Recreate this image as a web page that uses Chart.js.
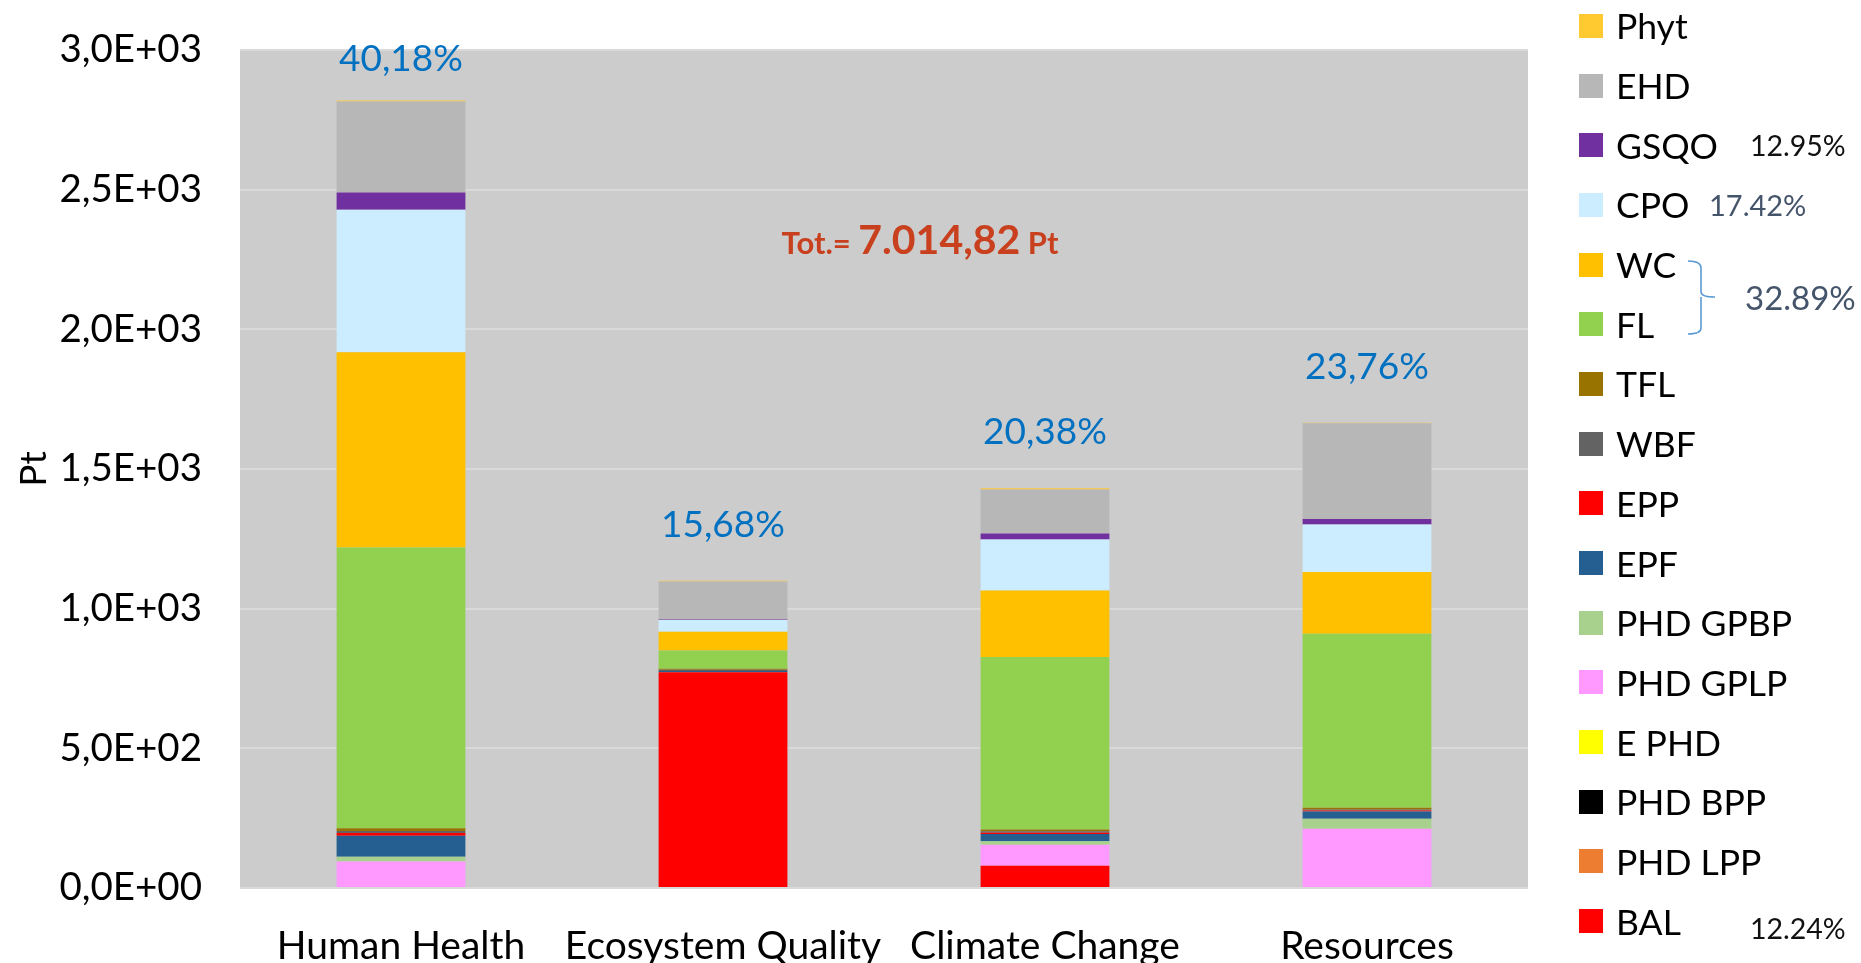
<!DOCTYPE html>
<html>
<head>
<meta charset="utf-8">
<script src="https://cdn.jsdelivr.net/npm/chart.js@4.4.1/dist/chart.umd.min.js"></script>
<style>
    body { margin: 0; background: #ffffff; font-family: Lato, sans-serif; }
    #wrap { position: relative; width: 1861px; height: 963px; overflow: hidden; }
    #legend { position: absolute; left: 1579px; top: -4px; margin: 0; padding: 0; list-style: none; }
    #legend li { height: 59.7px; display: flex; align-items: center; font-size: 35.5px; color: #000; white-space: nowrap; }
    #legend .box { width: 24px; height: 24px; margin-right: 13px; display: inline-block; }
    .note { position: absolute; transform: translateY(-50%); white-space: nowrap; }
</style>
</head>
<body>
<div id="wrap">
    <canvas id="impactChart" width="1861" height="963"></canvas>
    <ul id="legend"></ul>
    <div class="note" style="left:1750px; top:145px; font-size:28.5px; color:#111;">12.95%</div>
    <div class="note" style="left:1709px; top:204px; font-size:29px; color:#44546A;">17.42%</div>
    <svg style="position:absolute; left:1686px; top:259px;" width="32" height="78">
        <path d="M2,2 Q15,2 15,9 L15,33 Q15,38 29,38 M15,38 Q15,43 15,45 L15,69 Q15,75 2,75" stroke="#5B9BD5" stroke-width="1.6" fill="none"/>
    </svg>
    <div class="note" style="left:1745px; top:297px; font-size:33px; color:#44546A;">32.89%</div>
    <div class="note" style="left:1750px; top:928px; font-size:28.5px; color:#111;">12.24%</div>
</div>
<script>
// categories and shares
const categories = ['Human Health', 'Ecosystem Quality', 'Climate Change', 'Resources'];
const sharePct = ['40,18%', '15,68%', '20,38%', '23,76%'];
const totalText = ['Tot.= ', '7.014,82', ' Pt'];

// series values (Pt), bottom of the stack first
const BAL     = [0, 772, 80, 0];
const phdLpp  = [0, 0, 0, 0];
const phdBpp  = [0, 0, 0, 0];
const ePhd    = [0, 0, 0, 0];
const phdGplp = [95, 0, 75, 212];
const phdGpbp = [17, 0, 12, 36];
const EPF     = [75, 5, 26, 26];
const EPP     = [10, 0, 5, 3];
const WBF     = [7, 4, 5, 4];
const TFL     = [10, 4, 6, 6];
const FL      = [1005, 65, 618, 623];
const WC      = [699, 67, 238, 221];
const CPO     = [510, 42, 183, 170];
const GSQO    = [62, 2, 21, 20];
const EHD     = [326, 136, 158, 343];
const Phyt    = [3, 3, 4, 2];

// y axis ticks
const yTicks = [0, 500, 1000, 1500, 2000, 2500, 3000];

const series = [
    ['BAL', BAL, '#FF0000'],
    ['PHD LPP', phdLpp, '#ED7D31'],
    ['PHD BPP', phdBpp, '#000000'],
    ['E PHD', ePhd, '#FFFF00'],
    ['PHD GPLP', phdGplp, '#FF99FF'],
    ['PHD GPBP', phdGpbp, '#A9D18E'],
    ['EPF', EPF, '#255E91'],
    ['EPP', EPP, '#FF0000'],
    ['WBF', WBF, '#636363'],
    ['TFL', TFL, '#997300'],
    ['FL', FL, '#92D050'],
    ['WC', WC, '#FFC000'],
    ['CPO', CPO, '#CCECFF'],
    ['GSQO', GSQO, '#7030A0'],
    ['EHD', EHD, '#B7B7B7'],
    ['Phyt', Phyt, '#FFC930']
];

function sciLabel(v) {
    // 2500 -> 2,5E+03
    const parts = Number(v).toExponential(1).split('e');
    const exp = parseInt(parts[1], 10);
    const sign = exp < 0 ? '-' : '+';
    return parts[0].replace('.', ',') + 'E' + sign + String(Math.abs(exp)).padStart(2, '0');
}

Chart.defaults.font.family = 'Lato, sans-serif';
Chart.defaults.color = '#000000';

// grey plot background
const plotBg = {
    id: 'plotBg',
    beforeDraw(chart) {
        const a = chart.chartArea;
        const ctx = chart.ctx;
        ctx.save();
        ctx.fillStyle = '#CCCCCC';
        ctx.fillRect(a.left, a.top, a.right - a.left, a.bottom - a.top);
        ctx.restore();
    }
};

// share labels above the bars and the total
const annotations = {
    id: 'annotations',
    afterDatasetsDraw(chart) {
        const ctx = chart.ctx;
        const x = chart.scales.x;
        const y = chart.scales.y;
        ctx.save();
        ctx.font = '37px Lato, sans-serif';
        ctx.fillStyle = '#0070C0';
        ctx.textAlign = 'center';
        ctx.textBaseline = 'middle';
        categories.forEach((c, i) => {
            let sum = 0;
            chart.data.datasets.forEach(ds => { sum += ds.data[i]; });
            const py = Math.max(y.getPixelForValue(sum) - 56, chart.chartArea.top + 9);
            ctx.fillText(sharePct[i], x.getPixelForValue(i), py);
        });

        // Tot.= 7.014,82 Pt
        const fonts = ['bold 31px Lato, sans-serif', 'bold 41px Lato, sans-serif', 'bold 31px Lato, sans-serif'];
        let w = 0;
        totalText.forEach((t, k) => { ctx.font = fonts[k]; w += ctx.measureText(t).width; });
        const a = chart.chartArea;
        let tx = a.left + 0.528 * (a.right - a.left) - w / 2;
        const ty = y.getPixelForValue(2320);
        ctx.fillStyle = '#C8401E';
        ctx.textAlign = 'left';
        ctx.textBaseline = 'alphabetic';
        totalText.forEach((t, k) => {
            ctx.font = fonts[k];
            ctx.fillText(t, tx, ty + 14);
            tx += ctx.measureText(t).width;
        });
        ctx.restore();
    }
};

const ctx = document.getElementById('impactChart');
const chart = new Chart(ctx, {
    type: 'bar',
    data: {
        labels: categories,
        datasets: series.map(s => ({
            label: s[0],
            data: s[1],
            backgroundColor: s[2],
            borderWidth: 0,
            categoryPercentage: 1.0,
            barPercentage: 0.4
        }))
    },
    options: {
        responsive: false,
        animation: false,
        layout: {
            padding: { top: 50, right: 333, bottom: 0, left: 0 }
        },
        plugins: {
            legend: { display: false },
            tooltip: { enabled: false }
        },
        scales: {
            x: {
                stacked: true,
                grid: { display: false },
                border: { display: false },
                ticks: {
                    color: '#000',
                    font: { size: 39 },
                    padding: 27,
                    maxRotation: 0,
                    autoSkip: false
                },
                afterFit(scale) { scale.height = 75; }
            },
            y: {
                stacked: true,
                min: yTicks[0],
                max: yTicks[yTicks.length - 1],
                afterBuildTicks(scale) {
                    scale.ticks = yTicks.map(v => ({ value: v }));
                },
                grid: { color: '#D9D9D9', lineWidth: 2, drawTicks: false },
                border: { display: false },
                ticks: {
                    color: '#000',
                    font: { size: 38.5 },
                    padding: 38,
                    callback: v => sciLabel(v)
                },
                title: {
                    display: true,
                    text: 'Pt',
                    color: '#000',
                    font: { size: 37 },
                    padding: { top: 12, bottom: 0 }
                },
                afterFit(scale) {
                    scale.width = 240;
                    // tick padding would otherwise push the plot area down
                    scale.paddingTop = 0;
                    scale.paddingBottom = 0;
                }
            }
        }
    },
    plugins: [plotBg, annotations]
});

// legend on the right, same order as Excel (top of stack first)
const legendEl = document.getElementById('legend');
chart.data.datasets.slice().reverse().forEach(ds => {
    const li = document.createElement('li');
    const box = document.createElement('span');
    box.className = 'box';
    box.style.background = ds.backgroundColor;
    li.appendChild(box);
    li.appendChild(document.createTextNode(ds.label));
    legendEl.appendChild(li);
});
</script>
</body>
</html>
